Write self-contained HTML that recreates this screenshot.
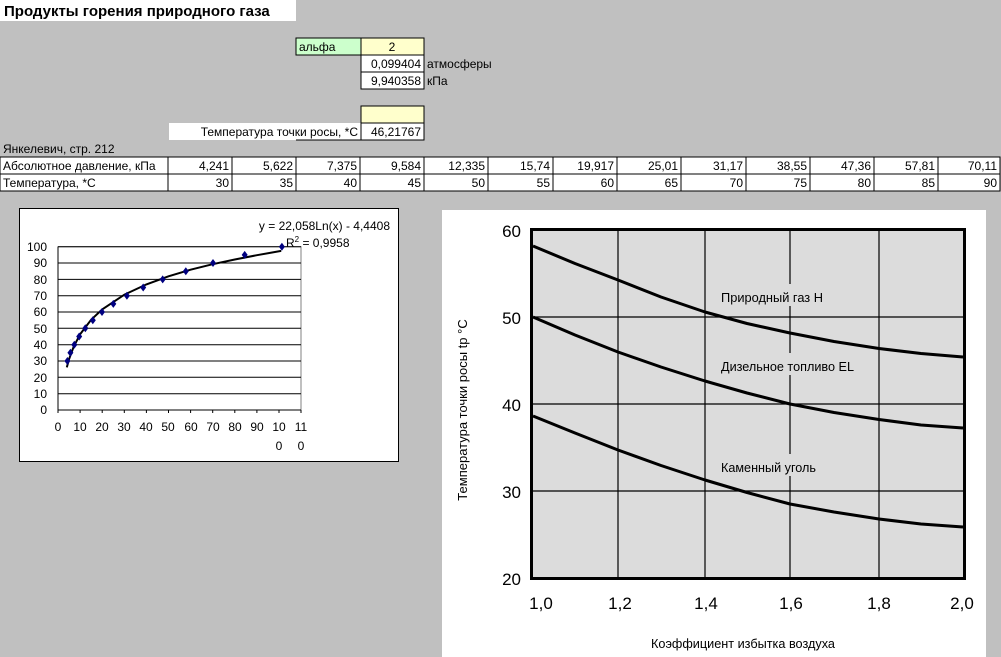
<!DOCTYPE html>
<html><head><meta charset="utf-8"><style>
body{margin:0;background:#c0c0c0;width:1001px;height:657px;overflow:hidden}
svg{display:block}
text{font-family:"Liberation Sans","DejaVu Sans",sans-serif}
</style></head><body>
<svg width="1001" height="657" xmlns="http://www.w3.org/2000/svg">
<rect width="1001" height="657" fill="#c0c0c0"/>
<rect x="0" y="0" width="296" height="21" fill="#fff"/>
<text x="4" y="16" font-size="15" font-weight="bold">Продукты горения природного газа</text>
<g font-size="12">
<rect x="296" y="38" width="65" height="17" fill="#ccffcc" stroke="#000"/>
<text x="299" y="51">альфа</text>
<rect x="361" y="38" width="63" height="17" fill="#ffffcc" stroke="#000"/>
<text x="392" y="51" text-anchor="middle">2</text>
<rect x="361" y="55" width="63" height="17" fill="#fff" stroke="#000"/>
<text x="421" y="68" text-anchor="end">0,099404</text>
<text x="427" y="68">атмосферы</text>
<rect x="361" y="72" width="63" height="17" fill="#fff" stroke="#000"/>
<text x="421" y="85" text-anchor="end">9,940358</text>
<text x="427" y="85">кПа</text>
<rect x="361" y="106" width="63" height="17" fill="#ffffcc" stroke="#000"/>
<rect x="169" y="123" width="192" height="17" fill="#fff"/>
<line x1="296" y1="140" x2="361" y2="140" stroke="#000"/>
<rect x="361" y="123" width="63" height="17" fill="#fff" stroke="#000"/>
<text x="358" y="136" text-anchor="end">Температура точки росы, *С</text>
<text x="421" y="136" text-anchor="end">46,21767</text>
<text x="3" y="153">Янкелевич, стр. 212</text>
<rect x="0" y="157" width="1000" height="34" fill="#fff" stroke="#000"/>
<line x1="0" y1="174" x2="1000" y2="174" stroke="#000"/>
<text x="3" y="170">Абсолютное давление, кПа</text>
<text x="3" y="187">Температура, *С</text>
</g>
<g font-size="12" text-anchor="end">
<line x1="168" y1="157" x2="168" y2="191" stroke="#000"/>
<line x1="232" y1="157" x2="232" y2="191" stroke="#000"/>
<line x1="296" y1="157" x2="296" y2="191" stroke="#000"/>
<line x1="360" y1="157" x2="360" y2="191" stroke="#000"/>
<line x1="424" y1="157" x2="424" y2="191" stroke="#000"/>
<line x1="488" y1="157" x2="488" y2="191" stroke="#000"/>
<line x1="553" y1="157" x2="553" y2="191" stroke="#000"/>
<line x1="617" y1="157" x2="617" y2="191" stroke="#000"/>
<line x1="681" y1="157" x2="681" y2="191" stroke="#000"/>
<line x1="746" y1="157" x2="746" y2="191" stroke="#000"/>
<line x1="810" y1="157" x2="810" y2="191" stroke="#000"/>
<line x1="874" y1="157" x2="874" y2="191" stroke="#000"/>
<line x1="938" y1="157" x2="938" y2="191" stroke="#000"/>
<text x="229" y="170">4,241</text><text x="229" y="187">30</text>
<text x="293" y="170">5,622</text><text x="293" y="187">35</text>
<text x="357" y="170">7,375</text><text x="357" y="187">40</text>
<text x="421" y="170">9,584</text><text x="421" y="187">45</text>
<text x="485" y="170">12,335</text><text x="485" y="187">50</text>
<text x="550" y="170">15,74</text><text x="550" y="187">55</text>
<text x="614" y="170">19,917</text><text x="614" y="187">60</text>
<text x="678" y="170">25,01</text><text x="678" y="187">65</text>
<text x="743" y="170">31,17</text><text x="743" y="187">70</text>
<text x="807" y="170">38,55</text><text x="807" y="187">75</text>
<text x="871" y="170">47,36</text><text x="871" y="187">80</text>
<text x="935" y="170">57,81</text><text x="935" y="187">85</text>
<text x="997" y="170">70,11</text><text x="997" y="187">90</text>
</g>
<rect x="19.5" y="208.5" width="379" height="253" fill="#fff" stroke="#000"/>
<rect x="58" y="246.7" width="243" height="163.3" fill="#fff" stroke="#808080"/>
<g stroke="#000" stroke-width="1">
<line x1="58" y1="246.7" x2="301" y2="246.7"/><line x1="58" y1="263" x2="301" y2="263"/>
<line x1="58" y1="279.4" x2="301" y2="279.4"/><line x1="58" y1="295.7" x2="301" y2="295.7"/>
<line x1="58" y1="312" x2="301" y2="312"/><line x1="58" y1="328.3" x2="301" y2="328.3"/>
<line x1="58" y1="344.7" x2="301" y2="344.7"/><line x1="58" y1="361" x2="301" y2="361"/>
<line x1="58" y1="377.3" x2="301" y2="377.3"/><line x1="58" y1="393.7" x2="301" y2="393.7"/>
<line x1="58" y1="410" x2="301" y2="410"/>
<line x1="58" y1="246.7" x2="58" y2="413"/>
</g>
<g stroke="#000">
<line x1="80.1" y1="410" x2="80.1" y2="413"/><line x1="102.2" y1="410" x2="102.2" y2="413"/>
<line x1="124.3" y1="410" x2="124.3" y2="413"/><line x1="146.4" y1="410" x2="146.4" y2="413"/>
<line x1="168.5" y1="410" x2="168.5" y2="413"/><line x1="190.6" y1="410" x2="190.6" y2="413"/>
<line x1="212.7" y1="410" x2="212.7" y2="413"/><line x1="234.8" y1="410" x2="234.8" y2="413"/>
<line x1="256.9" y1="410" x2="256.9" y2="413"/><line x1="279" y1="410" x2="279" y2="413"/>
<line x1="301" y1="410" x2="301" y2="413"/>
</g>
<g font-size="12" text-anchor="end">
<text x="47" y="251">100</text><text x="47" y="267">90</text><text x="47" y="284">80</text>
<text x="47" y="300">70</text><text x="47" y="316">60</text><text x="47" y="333">50</text>
<text x="47" y="349">40</text><text x="47" y="365">30</text><text x="47" y="382">20</text>
<text x="47" y="398">10</text><text x="47" y="414">0</text>
</g>
<g font-size="12" text-anchor="middle">
<text x="58" y="431">0</text><text x="80" y="431">10</text><text x="102" y="431">20</text>
<text x="124" y="431">30</text><text x="146" y="431">40</text><text x="168" y="431">50</text>
<text x="191" y="431">60</text><text x="213" y="431">70</text><text x="235" y="431">80</text>
<text x="257" y="431">90</text><text x="279" y="431">10</text><text x="301" y="431">11</text>
<text x="279" y="450">0</text><text x="301" y="450">0</text>
</g>
<polyline fill="none" stroke="#000" stroke-width="2" points="66.8,367.4 69,359.3 73.5,347.1 80.1,334.3 91.2,319.7 102.2,309.4 124.3,294.7 146.4,284.4 168.5,276.3 190.6,269.7 212.7,264.2 234.8,259.5 256.9,255.2 281.2,250.9"/>
<g fill="#000080">
<path d="M67.4 357l3 4-3 4-3-4z"/><path d="M70.4 348.8l3 4-3 4-3-4z"/><path d="M74.3 340.7l3 4-3 4-3-4z"/>
<path d="M79.2 332.5l3 4-3 4-3-4z"/><path d="M85.3 324.3l3 4-3 4-3-4z"/><path d="M92.8 316.2l3 4-3 4-3-4z"/>
<path d="M102 308l3 4-3 4-3-4z"/><path d="M113.3 299.9l3 4-3 4-3-4z"/><path d="M126.9 291.7l3 4-3 4-3-4z"/>
<path d="M143.2 283.5l3 4-3 4-3-4z"/><path d="M162.7 275.4l3 4-3 4-3-4z"/><path d="M185.8 267.2l3 4-3 4-3-4z"/>
<path d="M213 259l3 4-3 4-3-4z"/><path d="M244.7 250.9l3 4-3 4-3-4z"/><path d="M281.9 242.7l3 4-3 4-3-4z"/>
</g>
<text x="390" y="230" font-size="12" text-anchor="end">y = 22,058Ln(x) - 4,4408</text>
<text x="286" y="247" font-size="12">R<tspan font-size="8" dy="-5">2</tspan><tspan dy="5"> = 0,9958</tspan></text>
<rect x="442" y="210" width="544" height="447" fill="#fff"/>
<rect x="531.5" y="229.5" width="433" height="349" fill="#dcdcdc" stroke="#000" stroke-width="3"/>
<g stroke="#000" stroke-width="1.2">
<line x1="618" y1="230" x2="618" y2="578"/><line x1="705" y1="230" x2="705" y2="578"/>
<line x1="790" y1="230" x2="790" y2="578"/><line x1="879" y1="230" x2="879" y2="578"/>
<line x1="532" y1="317" x2="964" y2="317"/><line x1="532" y1="404" x2="964" y2="404"/>
<line x1="532" y1="491" x2="964" y2="491"/>
</g>
<rect x="718" y="284" width="135" height="22" fill="#dcdcdc"/>
<rect x="718" y="353" width="140" height="22" fill="#dcdcdc"/>
<rect x="718" y="454" width="115" height="22" fill="#dcdcdc"/>
<g fill="none" stroke="#000" stroke-width="3" stroke-linejoin="round">
<polyline points="533,246 575,263.5 618,280 661,297 705,312 747,323.5 790,333 834,341.5 879,348.5 921,353.5 963,357"/>
<polyline points="533,317 575,335 618,352 661,367 705,381 747,393 790,404 834,412.5 879,419.5 921,425 963,428"/>
<polyline points="533,416 575,433 618,450 661,465.5 705,480 747,492.5 790,504 834,512 879,519 921,524 963,527"/>
</g>
<g font-size="13">
<text x="721" y="302" textLength="102" lengthAdjust="spacingAndGlyphs">Природный газ H</text>
<text x="721" y="371" textLength="133" lengthAdjust="spacingAndGlyphs">Дизельное топливо EL</text>
<text x="721" y="472" textLength="95" lengthAdjust="spacingAndGlyphs">Каменный уголь</text>
</g>
<g font-size="17" text-anchor="end">
<text x="521" y="237">60</text><text x="521" y="324">50</text><text x="521" y="411">40</text>
<text x="521" y="498">30</text><text x="521" y="585">20</text>
</g>
<g font-size="17" text-anchor="middle">
<text x="541" y="609">1,0</text><text x="620" y="609">1,2</text><text x="706" y="609">1,4</text>
<text x="791" y="609">1,6</text><text x="879" y="609">1,8</text><text x="962" y="609">2,0</text>
</g>
<text x="743" y="648" font-size="13" text-anchor="middle" textLength="184" lengthAdjust="spacingAndGlyphs">Коэффициент избытка воздуха</text>
<text transform="translate(467,410) rotate(-90)" font-size="13" text-anchor="middle">Температура точки росы tр °С</text>
</svg>
</body></html>
